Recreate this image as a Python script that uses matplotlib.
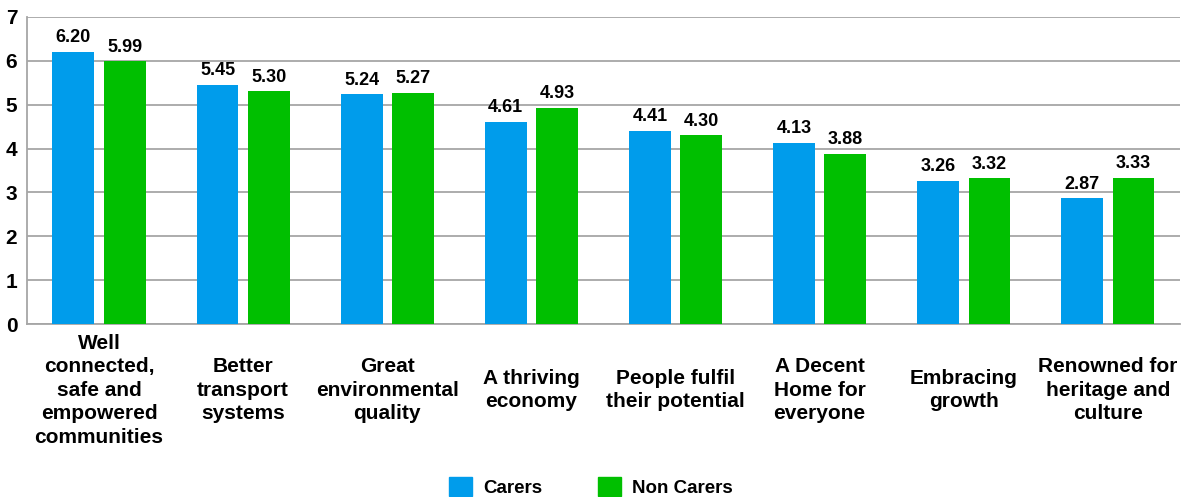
import numpy as np
import matplotlib.pyplot as plt
from matplotlib.patches import Patch

categories = [
    "Well\nconnected,\nsafe and\nempowered\ncommunities",
    "Better\ntransport\nsystems",
    "Great\nenvironmental\nquality",
    "A thriving\neconomy",
    "People fulfil\ntheir potential",
    "A Decent\nHome for\neveryone",
    "Embracing\ngrowth",
    "Renowned for\nheritage and\nculture",
]
carers = [6.20, 5.45, 5.24, 4.61, 4.41, 4.13, 3.26, 2.87]
non_carers = [5.99, 5.30, 5.27, 4.93, 4.30, 3.88, 3.32, 3.33]

blue = "#009ceb"
green = "#00bf00"

plt.rcParams['font.family'] = ['Liberation Sans', 'DejaVu Sans']
plt.rcParams['font.weight'] = 'bold'

fig = plt.figure(figsize=(11.89, 4.97), dpi=100)
ax = fig.add_axes([0.0227, 0.348, 0.9697, 0.618])

x = np.arange(len(categories))
w = 0.29
off = 0.178
b1 = ax.bar(x - off, carers, w, color=blue, zorder=3)
b2 = ax.bar(x + off, non_carers, w, color=green, zorder=3)

for bars, vals in ((b1, carers), (b2, non_carers)):
    for b, v in zip(bars, vals):
        ax.annotate(f"{v:.2f}", (b.get_x() + b.get_width() / 2, v),
                    xytext=(0, 4), textcoords="offset points",
                    ha="center", va="bottom", fontsize=13, fontweight="bold")

ax.set_xlim(-0.5, len(categories) - 0.5)
ax.set_ylim(0, 7)
ax.set_yticks(range(0, 8))
ax.yaxis.grid(True, color="#a6a6a6", linewidth=1.3, zorder=0)
ax.set_axisbelow(True)

# category labels, centred vertically in the band below the axis
ax.set_xticks(x)
ax.set_xticklabels([])
ax.tick_params(axis="x", length=0)
for xi, lab in zip(x, categories):
    ax.text(xi, -0.215, lab, transform=ax.get_xaxis_transform(),
            ha="center", va="center", fontsize=15, fontweight="bold",
            linespacing=1.3, multialignment="center")

ax.tick_params(axis="y", length=0, pad=7, labelsize=15)

for s in ["top", "right"]:
    ax.spines[s].set_visible(False)
for s in ["left", "bottom"]:
    ax.spines[s].set_color("#a6a6a6")
    ax.spines[s].set_linewidth(1.3)

handles = [Patch(color=blue, label="Carers"), Patch(color=green, label="Non Carers")]
fig.legend(handles=handles, loc="center", bbox_to_anchor=(0.497, 0.02), ncol=2,
           frameon=False, fontsize=13.5, handlelength=1.2, handleheight=1.2,
           handletextpad=0.6, columnspacing=3.0)

plt.savefig("out.png", dpi=100)
